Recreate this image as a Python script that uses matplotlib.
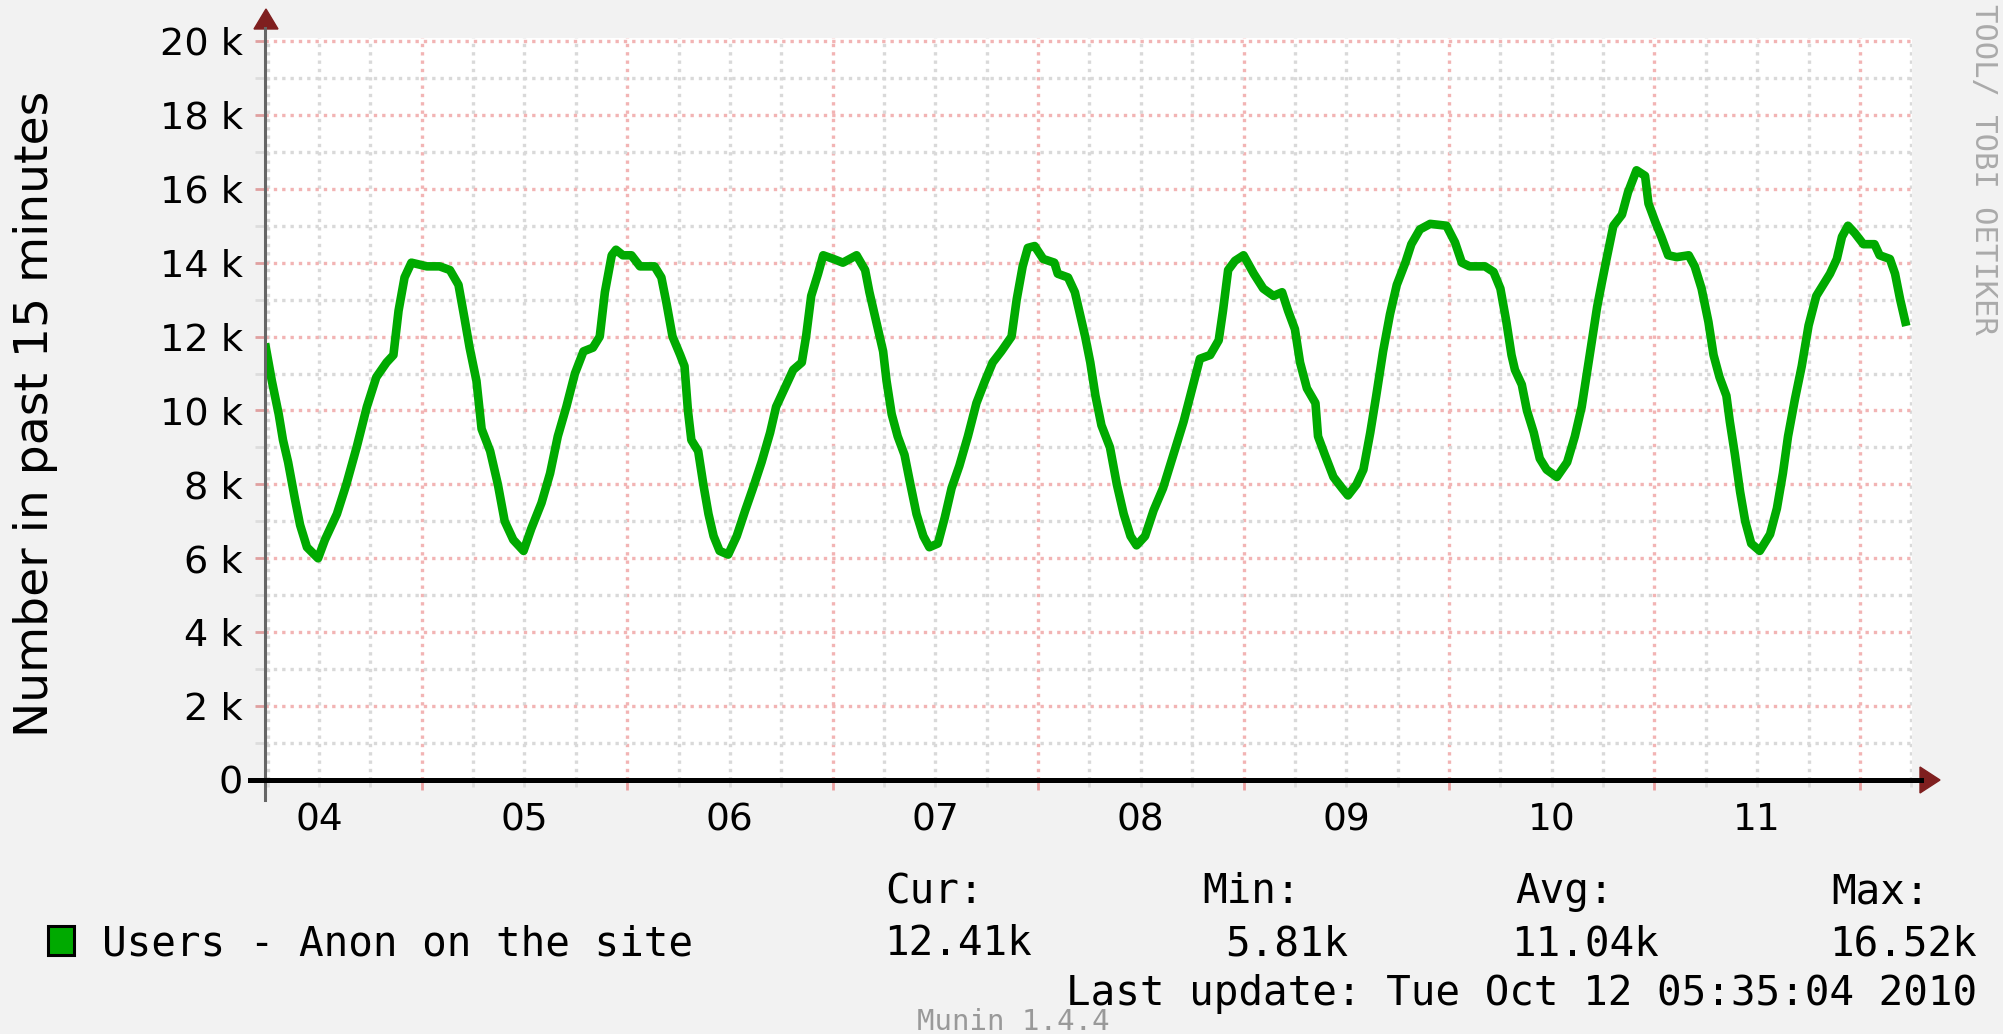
import matplotlib
matplotlib.use('Agg')
import matplotlib.pyplot as plt
from matplotlib.ticker import MultipleLocator, FuncFormatter
from matplotlib.patches import Polygon, Rectangle
from matplotlib.lines import Line2D

# hours since Oct 04 00:00, users in past 15 minutes
hours = [5.8, 6.5, 7.3, 7.8, 8.4, 9.2, 9.8, 10.6, 11.9, 12.7, 14.1, 15.2, 16.4, 17.6,
         18.7, 19.9, 20.7, 21.3, 22.0, 22.8, 24.6, 26.1, 27.3, 28.3, 29.0, 29.6,
         30.4, 31.0, 32.0, 32.9, 33.7, 34.7, 35.9, 36.8, 38.0, 39.0, 39.9, 40.9,
         41.9, 42.9, 44.0, 44.8, 45.4, 46.2, 46.7, 47.5, 48.5, 49.5, 51.2, 52.0,
         52.6, 53.3, 54.2, 54.7, 55.1, 55.5, 56.3, 56.9, 57.5, 58.1, 58.8, 59.8,
         60.8, 61.8, 62.7, 63.7, 64.7, 65.4, 66.4, 67.4, 68.4, 68.9, 69.5, 70.3,
         70.9, 72.1, 73.2, 74.8, 75.8, 76.3, 77.1, 77.9, 78.3, 78.9, 79.6, 80.4,
         81.0, 81.8, 82.6, 83.3, 84.3, 85.1, 85.9, 86.8, 87.8, 88.8, 89.8, 90.7,
         91.7, 92.9, 93.5, 94.2, 94.8, 95.6, 96.6, 97.9, 98.3, 99.5, 100.3, 101.0,
         101.5, 102.1, 102.7, 103.4, 104.4, 105.2, 106.0, 106.8, 107.5, 108.5,
         109.5, 110.6, 111.8, 113.0, 114.0, 114.9, 116.1, 117.1, 117.6, 118.2,
         119.0, 120.0, 121.2, 122.3, 123.5, 124.5, 125.2, 126.0, 126.6, 127.4,
         128.4, 128.7, 129.5, 130.5, 131.5, 132.2, 133.2, 134.0, 134.8, 135.5,
         136.3, 137.1, 137.9, 138.9, 139.6, 140.6, 141.8, 143.7, 144.7, 145.5,
         146.4, 148.2, 149.2, 150.0, 150.7, 151.3, 151.7, 152.5, 153.1, 153.9,
         154.6, 155.4, 156.6, 157.8, 158.7, 159.5, 160.1, 160.7, 161.3, 161.8,
         162.4, 163.2, 164.2, 164.9, 165.9, 166.9, 167.3, 168.1, 168.8, 169.6,
         170.6, 172.0, 172.7, 173.5, 174.3, 174.9, 175.6, 176.4, 176.8, 177.4,
         178.0, 178.6, 179.3, 180.3, 181.5, 182.3, 183.0, 183.6, 184.4, 185.2,
         186.0, 186.9, 187.7, 188.5, 189.3, 189.9, 190.6, 191.4, 192.4, 193.7,
         194.3, 195.5, 196.1, 196.7, 197.3]
users = [11700, 10800, 9900, 9200, 8600, 7600, 6900, 6300, 6000, 6500, 7200, 8000, 9000, 10100,
         10900, 11300, 11500, 12700, 13600, 14000, 13900, 13900, 13800, 13400, 12500, 11700,
         10800, 9500, 8900, 8000, 7000, 6500, 6200, 6800, 7500, 8300, 9300, 10100,
         11000, 11600, 11700, 12000, 13200, 14200, 14350, 14200, 14200, 13900, 13900, 13600,
         12900, 12000, 11500, 11200, 10000, 9200, 8900, 8000, 7200, 6600, 6200, 6100,
         6600, 7300, 7900, 8600, 9400, 10100, 10600, 11100, 11300, 12000, 13100, 13700,
         14200, 14100, 14000, 14200, 13800, 13200, 12400, 11600, 10800, 9900, 9300, 8800,
         8100, 7200, 6600, 6300, 6400, 7100, 7900, 8500, 9300, 10200, 10800, 11300,
         11600, 12000, 13000, 13900, 14400, 14450, 14100, 14000, 13700, 13600, 13200, 12500,
         12000, 11300, 10400, 9600, 9000, 8000, 7200, 6600, 6350, 6600,
         7300, 7900, 8800, 9700, 10600, 11400, 11500, 11900, 12700, 13800,
         14050, 14200, 13700, 13300, 13100, 13200, 12700, 12200, 11300, 10600,
         10200, 9300, 8800, 8200, 7900, 7700, 8000, 8400, 9400, 10400,
         11600, 12600, 13400, 14000, 14500, 14900, 15050, 15000, 14550, 14000,
         13900, 13900, 13750, 13300, 12400, 11500, 11100, 10700, 10000, 9400,
         8700, 8400, 8200, 8600, 9300, 10100, 11000, 11900, 12800, 13400,
         14100, 15000, 15300, 15900, 16500, 16350, 15600, 15100, 14700, 14200,
         14150, 14200, 13900, 13300, 12400, 11500, 10900, 10400, 9700, 8800,
         7800, 7000, 6400, 6200, 6650, 7350, 8300, 9300, 10300, 11200,
         12300, 13100, 13400, 13700, 14100, 14700, 15000, 14800, 14500, 14500,
         14200, 14100, 13700, 13000, 12400]

day_labels = ['04', '05', '06', '07', '08', '09', '10', '11']
stat_names = ['Cur:', 'Min:', 'Avg:', 'Max:']
stat_values = ['12.41k', '5.81k', '11.04k', '16.52k']
legend_label = 'Users - Anon on the site'
last_update = 'Last update: Tue Oct 12 05:35:04 2010'

W, H = 2003, 1034
fig = plt.figure(figsize=(W / 100, H / 100), dpi=100, facecolor='#f2f2f2')


def fx(px):
    return px / W


def fy(py):
    return 1 - py / H


ax = fig.add_axes([fx(265), fy(780), fx(1912) - fx(265), fy(38) - fy(780)])
ax.set_facecolor('white')
ax.plot(hours, users, color='#00aa00', lw=6.2, zorder=3)
ax.set_xlim(5.70, 198.08)
ax.set_ylim(0, 20080)

# y axis: 2k major (red), 1k minor (grey)
ax.yaxis.set_major_locator(MultipleLocator(2000))
ax.yaxis.set_minor_locator(MultipleLocator(1000))
ax.yaxis.set_major_formatter(FuncFormatter(lambda v, p: '0' if v == 0 else '%d k' % (v / 1000)))

# x axis: midnight major (red), 6h minor (grey), day labels at noon
ax.xaxis.set_major_locator(MultipleLocator(24))
ax.xaxis.set_minor_locator(MultipleLocator(6))
ax.xaxis.set_major_formatter(FuncFormatter(lambda v, p: ''))


def day_fmt(v, p):
    if round(v) % 24 == 12:
        i = int(round(v) // 24)
        if 0 <= i < len(day_labels):
            return day_labels[i]
    return ''


ax.xaxis.set_minor_formatter(FuncFormatter(day_fmt))

dots = (0, (1, 1.5))
ax.grid(which='major', color='#f2b4b4', lw=2.4, ls=dots, zorder=1)
ax.grid(which='minor', color='#d9d9d9', lw=2.4, ls=dots, zorder=1)
ax.set_axisbelow(True)

ax.tick_params(axis='x', which='major', length=7, width=2, color='#eaa0a0')
ax.tick_params(axis='x', which='minor', length=5, width=2, color='#dddddd',
               labelsize=27, pad=11)
ax.tick_params(axis='y', which='major', length=7, width=2, color='#e0a0a0',
               labelsize=27.5, pad=9)
ax.tick_params(axis='y', which='minor', length=7, width=2, color='#dddddd')
for lab in ax.get_xticklabels(minor=True) + ax.get_yticklabels():
    lab.set_family('DejaVu Sans')
for s in ax.spines.values():
    s.set_visible(False)

# axis lines and arrows
fig.add_artist(Line2D([fx(265), fx(265)], [fy(800), fy(28)], color='#666666', lw=2.2,
                      transform=fig.transFigure))
fig.add_artist(Line2D([fx(250), fx(1921)], [fy(780), fy(780)], color='black', lw=3.6,
                      transform=fig.transFigure))
fig.add_artist(Polygon([[fx(254), fy(29)], [fx(278), fy(29)], [fx(266), fy(9)]],
                       closed=True, color='#7f1f1f', transform=fig.transFigure))
fig.add_artist(Polygon([[fx(1920), fy(767)], [fx(1920), fy(793)], [fx(1940), fy(780)]],
                       closed=True, color='#7f1f1f', transform=fig.transFigure))

fig.text(fx(36), fy(414), 'Number in past 15 minutes', rotation=90, ha='center',
         va='center', fontsize=34, family='DejaVu Sans')
fig.text(fx(1983), fy(4), 'TOOL/ TOBI OETIKER', rotation=270, ha='center',
         va='top', fontsize=22, family='DejaVu Sans Mono', color='#aaaaaa')

# legend and stats
mono = 'DejaVu Sans Mono'
fig.add_artist(Rectangle((fx(48), fy(955)), fx(74) - fx(48), fy(926) - fy(955),
                         facecolor='#00aa00', edgecolor='black', lw=2.2,
                         transform=fig.transFigure))
fig.text(fx(102), fy(955), legend_label, va='baseline', fontsize=29.5, family=mono)

head_x = [885, 1202, 1515, 1831]
val_x = [1032, 1348, 1659, 1977]
for name, val, hx, vx in zip(stat_names, stat_values, head_x, val_x):
    fig.text(fx(hx), fy(903), name, va='baseline', fontsize=29.5, family=mono)
    fig.text(fx(vx), fy(955), val, ha='right', va='baseline', fontsize=29.5, family=mono)

fig.text(fx(1977), fy(1005), last_update, ha='right', va='baseline', fontsize=29.5, family=mono)
fig.text(fx(917), fy(1030), 'Munin 1.4.4', va='baseline', fontsize=21, family=mono,
         color='#999999')

fig.savefig('out.png', dpi=100, facecolor=fig.get_facecolor())
